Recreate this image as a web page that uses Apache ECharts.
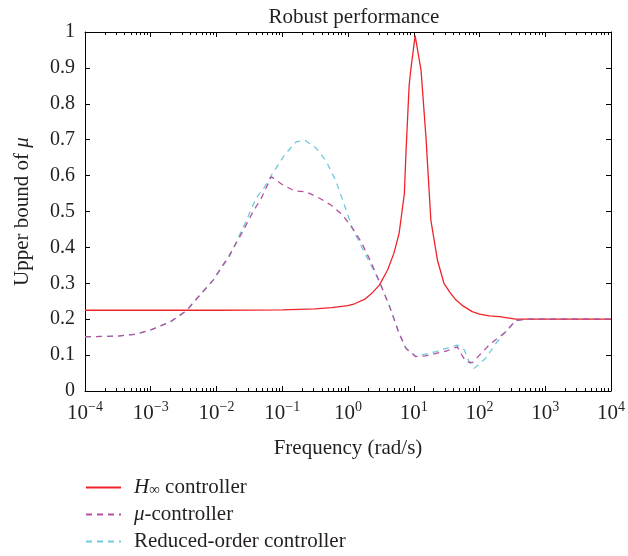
<!DOCTYPE html>
<html>
<head>
<meta charset="utf-8">
<script src="https://cdn.jsdelivr.net/npm/echarts@6/dist/echarts.min.js"></script>
<style>
  html, body { margin: 0; padding: 0; background: #fff; }
  #chart { width: 628px; height: 556px; }
</style>
</head>
<body>
<div id="chart"></div>
<script>
// frequencies (rad/s) and upper bound of mu
var hinfFreq = [0.0001, 0.01, 0.1, 0.316, 0.56, 1.0, 1.26, 1.78, 2.24, 3.0, 4.0, 5.0, 6.0, 7.2, 7.6, 8.5, 9.0, 10.5,
  12.9, 15.3, 18.2, 22.9, 28.8, 35.5, 43.6, 56, 77.6, 100, 141, 200, 355, 10000];
var hinfMu = [0.225, 0.225, 0.226, 0.229, 0.232, 0.238, 0.243, 0.255, 0.27, 0.295, 0.337, 0.384, 0.44, 0.55, 0.66, 0.85, 0.894, 0.99,
  0.894, 0.71, 0.476, 0.365, 0.30, 0.275, 0.254, 0.237, 0.221, 0.214, 0.209, 0.207, 0.20, 0.20];

var muFreq = [0.0001, 0.00032, 0.00058, 0.001, 0.002, 0.0035, 0.0059, 0.0089, 0.0158, 0.025, 0.036, 0.048, 0.063, 0.068,
  0.102, 0.155, 0.23, 0.37, 0.55, 0.83, 1.17, 1.58, 2.1, 3.0, 4.3, 6.0, 7.6, 10.7, 15.1, 31, 46, 52, 62, 78, 140, 250, 355, 500, 10000];
var muMu = [0.151, 0.153, 0.158, 0.17, 0.193, 0.224, 0.272, 0.309, 0.379, 0.444, 0.50, 0.537, 0.583, 0.597,
  0.574, 0.557, 0.555, 0.537, 0.518, 0.49, 0.453, 0.416, 0.37, 0.305, 0.235, 0.16, 0.119, 0.096, 0.098, 0.111, 0.123, 0.105, 0.082, 0.079, 0.128, 0.165, 0.196, 0.2, 0.2];

var redFreq = [0.0001, 0.00032, 0.00058, 0.001, 0.002, 0.0035, 0.0059, 0.0089, 0.0158, 0.028, 0.040, 0.054, 0.068,
  0.108, 0.162, 0.22, 0.33, 0.47, 0.66, 0.88, 1.17, 1.66, 3.0, 4.3, 6.0, 7.6, 10.7, 21.9, 46, 59, 69, 83, 124, 178, 263, 355, 500, 10000];
var redMu = [0.151, 0.153, 0.158, 0.17, 0.193, 0.224, 0.272, 0.309, 0.375, 0.472, 0.537, 0.569, 0.60,
  0.657, 0.694, 0.699, 0.676, 0.639, 0.583, 0.518, 0.453, 0.397, 0.305, 0.235, 0.16, 0.119, 0.096, 0.11, 0.128, 0.114, 0.082, 0.063, 0.091, 0.133, 0.17, 0.196, 0.2, 0.2];

var seriesNames = ['{i|H}{sub|\u221e} controller', '{i|\u03bc}-controller', 'Reduced-order controller'];
var colors = ['#f0232a', '#b4519f', '#6fcadb'];

// log minor tick positions (2..9 in each decade), in exponent units
var minorTicks = [];
for (var d = -4; d < 4; d++) {
  for (var m = 2; m <= 9; m++) minorTicks.push(d + Math.log10(m));
}

var FONT = 'Liberation Serif';
var TXT = '#231f20';

function pairs(xs, ys) {
  var out = [];
  for (var i = 0; i < xs.length; i++) out.push([xs[i], ys[i]]);
  return out;
}

function majorAxis(pos, labels) {
  return {
    type: 'log', logBase: 10, min: 0.0001, max: 10000, interval: 1,
    position: pos, gridIndex: 0,
    axisLine: { show: true, onZero: false, lineStyle: { color: '#000', width: 1 } },
    axisTick: { show: true, inside: true, length: 5, lineStyle: { color: '#000' } },
    splitLine: { show: false },
    minorTick: { show: false },
    axisLabel: labels ? {
      margin: 9,
      formatter: function (v) {
        var e = Math.round(Math.log10(v));
        return '{b|10}{s|' + (e < 0 ? '\u2212' + (-e) : e) + '}';
      },
      rich: {
        b: { fontFamily: FONT, fontSize: 21, color: TXT, lineHeight: 24, verticalAlign: 'bottom' },
        s: { fontFamily: FONT, fontSize: 14, color: TXT, lineHeight: 14, verticalAlign: 'top' }
      }
    } : { show: false }
  };
}

function minorAxis(pos) {
  return {
    type: 'value', min: -4, max: 4, position: pos, gridIndex: 0,
    axisLine: { show: false, onZero: false },
    axisTick: { show: true, inside: true, length: 3, customValues: minorTicks, lineStyle: { color: '#000' } },
    axisLabel: { show: false },
    splitLine: { show: false }
  };
}

var chart = echarts.init(document.getElementById('chart'));

var xb = majorAxis('bottom', true);
xb.name = 'Frequency (rad/s)';
xb.nameLocation = 'middle';
xb.nameGap = 47;
xb.nameTextStyle = { fontFamily: FONT, fontSize: 21, color: TXT };

var option = {
  animation: false,
  backgroundColor: '#fff',
  title: {
    text: 'Robust performance',
    left: 349, top: 2, textAlign: 'center',
    textStyle: { fontFamily: FONT, fontSize: 21, fontWeight: 'normal', color: TXT }
  },
  grid: { left: 85, right: 16, top: 32, bottom: 165, containLabel: false },
  legend: {
    orient: 'vertical', left: 85, top: 477, padding: 0,
    itemWidth: 35, itemHeight: 14, itemGap: 6,
    data: seriesNames,
    itemStyle: { color: 'rgba(0,0,0,0)', borderWidth: 0, opacity: 0 },
    formatter: function (n) { return n; },
    textStyle: {
      fontFamily: FONT, fontSize: 21, color: TXT, lineHeight: 21, padding: [0, 0, 0, 8],
      rich: {
        i: { fontFamily: FONT, fontSize: 21, fontStyle: 'italic', color: TXT },
        sub: { fontFamily: FONT, fontSize: 15, color: TXT, verticalAlign: 'bottom', lineHeight: 12, padding: [6, 0, 0, 0] }
      }
    }
  },
  xAxis: [xb, minorAxis('bottom'), majorAxis('top', false), minorAxis('top')],
  yAxis: [
    {
      type: 'value', min: 0, max: 1, interval: 0.1, position: 'left',
      name: 'Upper bound of {i|\u03bc}',
      nameLocation: 'middle', nameGap: 52, nameRotate: 90,
      nameTextStyle: {
        fontFamily: FONT, fontSize: 21, color: TXT,
        rich: { i: { fontFamily: FONT, fontSize: 21, fontStyle: 'italic', color: TXT } }
      },
      axisLine: { show: true, onZero: false, lineStyle: { color: '#000' } },
      axisTick: { show: true, inside: true, length: 5, lineStyle: { color: '#000' } },
      axisLabel: { fontFamily: FONT, fontSize: 20, color: TXT, margin: 10 },
      splitLine: { show: false }
    },
    {
      type: 'value', min: 0, max: 1, interval: 0.1, position: 'right',
      axisLine: { show: true, onZero: false, lineStyle: { color: '#000' } },
      axisTick: { show: true, inside: true, length: 5, lineStyle: { color: '#000' } },
      axisLabel: { show: false },
      splitLine: { show: false }
    }
  ],
  series: [
    {
      name: seriesNames[0], type: 'line', xAxisIndex: 0, yAxisIndex: 0,
      symbol: 'none', data: pairs(hinfFreq, hinfMu),
      lineStyle: { color: colors[0], width: 1.3 }, itemStyle: { color: colors[0] }
    },
    {
      name: seriesNames[1], type: 'line', xAxisIndex: 0, yAxisIndex: 0,
      symbol: 'none', data: pairs(muFreq, muMu), z: 3,
      lineStyle: { color: colors[1], width: 1.3, type: [6, 5] }, itemStyle: { color: colors[1] }
    },
    {
      name: seriesNames[2], type: 'line', xAxisIndex: 0, yAxisIndex: 0,
      symbol: 'none', data: pairs(redFreq, redMu), z: 2,
      lineStyle: { color: colors[2], width: 1.3, type: [6, 5] }, itemStyle: { color: colors[2] }
    }
  ]
};
chart.setOption(option);
</script>
</body>
</html>
